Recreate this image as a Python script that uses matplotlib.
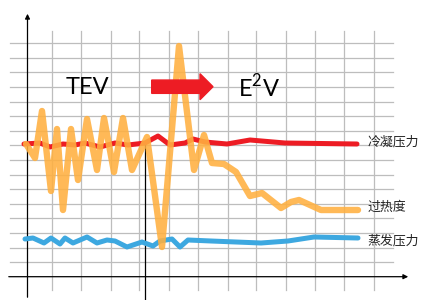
import numpy as np
import matplotlib
matplotlib.use("Agg")
import matplotlib.pyplot as plt

plt.rcParams['font.family'] = ['Noto Sans CJK SC', 'DejaVu Sans']

# coordinates (pixels, y grows downwards)
red_x = [24, 40, 50, 63, 75, 85, 100, 115, 128, 145, 158, 170, 185, 193, 205, 227, 250, 285, 357]
red_y = [144, 143, 147, 144, 145, 143, 147, 143, 145, 143, 136, 145, 143, 139, 142, 144, 140, 143, 144]

orange_x = [26, 35, 42, 51, 57, 63, 71, 78, 87, 97, 104, 114, 123, 132, 147, 162, 179, 194, 204,
            212, 224, 236, 250, 262, 281, 291, 299, 321, 358]
orange_y = [144, 158, 111, 191, 129, 210, 129, 180, 119, 170, 118, 172, 118, 170, 137, 247, 46, 170, 135,
            163, 164, 172, 196, 193, 208, 202, 200, 210, 210]

blue_x = [25, 33, 44, 51, 60, 65, 73, 87, 97, 107, 115, 127, 142, 153, 160, 172, 180, 188, 211,
          261, 288, 314, 358]
blue_y = [239, 238, 243, 238, 244, 238, 243, 237, 243, 240, 241, 247, 242, 246, 241, 239, 247, 240, 241,
          243, 241, 237, 238]

labels = ["冷凝压力", "过热度", "蒸发压力"]
label_y = [142, 207, 241]

grid_x = [51.7, 81.3, 110.7, 139.3, 168.7, 197.7, 227.7, 256.3, 285.7, 315, 344.3, 374.3]
grid_y = 276.7 - 14.6 * np.arange(1, 17)

plt.rcParams['mathtext.fontset'] = 'custom'
plt.rcParams['mathtext.rm'] = 'Lato'

fig = plt.figure(figsize=(4.22, 3.0), dpi=100)
ax = fig.add_axes([0, 0, 1, 1])
ax.set_xlim(0, 422)
ax.set_ylim(300, 0)
ax.axis("off")

gc = "#BDBDBD"
for y in grid_y:
    ax.plot([10, 393], [y, y], color=gc, lw=0.9, zorder=1)
for x in grid_x:
    ax.plot([x, x], [31, 290], color=gc, lw=0.9, zorder=1)

# axes
ax.annotate("", xy=(411, 276.7), xytext=(6, 276.7),
            arrowprops=dict(arrowstyle="-|>", color="black", lw=0.9, mutation_scale=7), zorder=2)
ax.annotate("", xy=(27.5, 11), xytext=(27.5, 300),
            arrowprops=dict(arrowstyle="-|>", color="black", lw=0.9, mutation_scale=7), zorder=2)
ax.plot([145.2, 145.2], [143, 300], color="black", lw=0.9, zorder=2)

ax.plot(red_x, red_y, color="#ED1C24", lw=3.6, solid_capstyle="round",
        solid_joinstyle="round", zorder=3)
ax.plot(orange_x, orange_y, color="#FFB040", lw=4.6, alpha=0.88, solid_capstyle="round",
        solid_joinstyle="round", zorder=4)
ax.plot(blue_x, blue_y, color="#3DA8E0", lw=3.6, solid_capstyle="round",
        solid_joinstyle="round", zorder=3)

ax.arrow(151.7, 86.7, 61.3, 0, width=13.3, head_width=26, head_length=13,
         length_includes_head=True, color="#ED1C24", zorder=5)

ax.text(87, 87, "TEV", fontsize=17, family=["Lato", "DejaVu Sans"], ha="center", va="center", zorder=6)
ax.text(259, 87, r"E$^{\mathrm{2}}$V", fontsize=17, family=["Lato", "DejaVu Sans"],
        ha="center", va="center", zorder=6)

for t, y in zip(labels, label_y):
    ax.text(367.5, y, t, fontsize=9.3, ha="left", va="center", color="#222222", zorder=6)

fig.savefig("out.png", dpi=100)
